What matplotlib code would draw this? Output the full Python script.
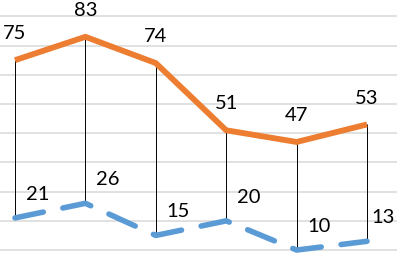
import matplotlib
matplotlib.use("Agg")
import matplotlib.pyplot as plt

categories = [0, 1, 2, 3, 4, 5]
series_a = [75, 83, 74, 51, 47, 53]
series_b = [21, 26, 15, 20, 10, 13]
grid_values = [10, 20, 30, 40, 50, 60, 70, 80, 90]

plt.rcParams['font.family'] = ['Lato', 'DejaVu Sans']

fig = plt.figure(figsize=(3.97, 2.67), dpi=100)
ax = fig.add_axes([0, 0, 1, 1])
ax.set_xlim(-0.213, 5.426)
ax.set_ylim(4.2, 95.6)
ax.axis('off')

for g in grid_values:
    ax.axhline(g, color='#D9D9D9', lw=1.1, zorder=0)

ax.vlines(categories, series_b, series_a, color='black', lw=0.7, zorder=1)

ax.plot(categories, series_a, color='#ED7D31', lw=4.2, solid_capstyle='butt',
        solid_joinstyle='miter', zorder=3)
line_b, = ax.plot(categories, series_b, color='#5B9BD5', lw=4.0, zorder=3,
                  dash_capstyle='round')
line_b.set_dashes((5.2, 3.6))

for x, y in zip(categories, series_a):
    ax.annotate(str(y), (x, y), xytext=(0, 19), textcoords='offset points',
                ha='center', va='center', fontsize=14.5, color='black')

texts_b = []
for x, y in zip(categories, series_b):
    t = ax.annotate(str(y), (x, y), xytext=(16, 17), textcoords='offset points',
                    ha='center', va='center', fontsize=14.5, color='black')
    texts_b.append(t)

# keep labels inside the figure like the chart tool does (nudge inward)
fig.canvas.draw()
renderer = fig.canvas.get_renderer()
W = fig.bbox.width
for t in texts_b:
    bb = t.get_window_extent(renderer)
    if bb.x1 > W - 2:
        shift_pt = (bb.x1 - W + 2) * 72.0 / fig.dpi
        ox, oy = t.xyann
        t.xyann = (ox - shift_pt, oy)

fig.savefig('out.png', dpi=100)
